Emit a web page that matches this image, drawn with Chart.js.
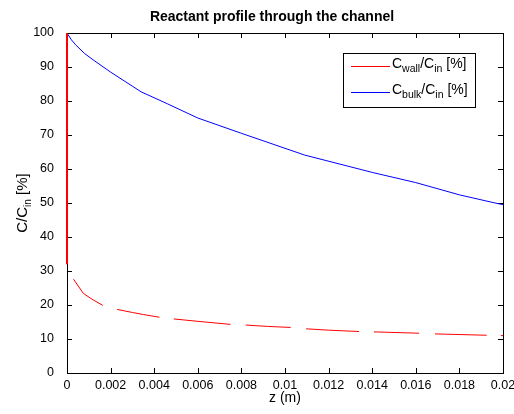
<!DOCTYPE html>
<html>
<head>
<meta charset="utf-8">
<script src="https://cdn.jsdelivr.net/npm/chart.js@4.4.0/dist/chart.umd.min.js"></script>
<style>
    html, body { margin: 0; padding: 0; background: #fff; }
    #wrap { width: 514px; height: 414px; }
</style>
</head>
<body>
<div id="wrap"><canvas id="profileChart" width="514" height="414"></canvas></div>
<script>
// Axial position along the channel (m) and concentration ratios (%)
const bulkZ   = [0, 0.0002, 0.0004, 0.0008, 0.0012, 0.002, 0.0034, 0.0046, 0.006, 0.008, 0.0109, 0.014, 0.016, 0.018, 0.0195, 0.02];
const bulkPct = [100, 98, 96.5, 94, 92.1, 88.5, 82.7, 79.2, 75, 70.5, 64.1, 59, 56, 52.4, 50.2, 49.5];

// Wall concentration is plotted in pieces; null entries break the line
const wallZ   = [0, 0, 0, 0.0003, 0.00075, 0.0012, 0.00164, 0.00164, 0.0023, 0.003, 0.0035, 0.00424, 0.00424,
                 0.0049, 0.006, 0.0075, 0.0075, 0.0082, 0.0092, 0.01026, 0.01026, 0.01097, 0.012, 0.0134, 0.0134,
                 0.01408, 0.01615, 0.01615, 0.01688, 0.01925, 0.01925, 0.0199, 0.02];
const wallPct = [100, 32, null, 27.6, 23.4, 21.5, 19.9, null, 18.7, 17.8, 17.2, 16.4, null,
                 15.9, 15.2, 14.3, null, 14.1, 13.7, 13.4, null, 13.0, 12.6, 12.2, null,
                 12.1, 11.7, null, 11.5, 11.1, null, 11.0, 11.0];

const xTicks = { min: 0, max: 0.02, step: 0.002 };
const yTicks = { min: 0, max: 100, step: 10 };

const FONT = '"Liberation Sans", Arial, sans-serif';

// text with subscripts, parts = [[text, isSub], ...]
function richWidth(ctx, parts, size, subSize) {
    let w = 0;
    parts.forEach(([t, sub]) => {
        ctx.font = (sub ? subSize : size) + 'px ' + FONT;
        w += ctx.measureText(t).width;
    });
    return w;
}
function drawRich(ctx, parts, x, y, size, subSize, drop) {
    ctx.textBaseline = 'alphabetic';
    ctx.textAlign = 'left';
    parts.forEach(([t, sub]) => {
        ctx.font = (sub ? subSize : size) + 'px ' + FONT;
        ctx.fillText(t, x, sub ? y + drop : y);
        x += ctx.measureText(t).width;
    });
}

const frame = {
    id: 'frame',
    beforeDatasetsDraw(chart) {
        const { ctx, chartArea: a, scales } = chart;
        ctx.save();
        ctx.strokeStyle = '#000';
        ctx.lineWidth = 1;
        ctx.strokeRect(a.left + 0.5, a.top + 0.5, a.right - a.left, a.bottom - a.top);
        ctx.beginPath();
        scales.x.ticks.forEach(t => {
            const px = Math.round(scales.x.getPixelForValue(t.value)) + 0.5;
            ctx.moveTo(px, a.bottom); ctx.lineTo(px, a.bottom - 5);
            ctx.moveTo(px, a.top); ctx.lineTo(px, a.top + 5);
        });
        scales.y.ticks.forEach(t => {
            const py = Math.round(scales.y.getPixelForValue(t.value)) + 0.5;
            ctx.moveTo(a.left, py); ctx.lineTo(a.left + 5, py);
            ctx.moveTo(a.right, py); ctx.lineTo(a.right - 5, py);
        });
        ctx.stroke();
        ctx.restore();
    },
    afterDraw(chart) {
        const { ctx, chartArea: a } = chart;
        ctx.save();
        ctx.fillStyle = '#000';

        // title
        ctx.font = 'bold 14px ' + FONT;
        ctx.textAlign = 'center';
        ctx.textBaseline = 'alphabetic';
        ctx.fillText('Reactant profile through the channel', 272, 21);

        // x axis title
        ctx.font = '14px ' + FONT;
        ctx.fillText('z (m)', (a.left + a.right) / 2, 402);

        // y axis title, rotated
        const yParts = [['C/C', false], ['in', true], [' [%]', false]];
        const yw = richWidth(ctx, yParts, 15, 10);
        ctx.translate(27, (a.top + a.bottom) / 2);
        ctx.rotate(-Math.PI / 2);
        drawRich(ctx, yParts, -yw / 2, 0, 15, 10, 4);
        ctx.setTransform(1, 0, 0, 1, 0, 0);

        // legend box
        ctx.fillStyle = '#fff';
        ctx.fillRect(343, 53, 132, 54);
        ctx.strokeStyle = '#000';
        ctx.lineWidth = 1;
        ctx.strokeRect(343.5, 53.5, 132, 54);
        const rows = [
            { color: '#ff0000', y: 66, parts: [['C', false], ['wall', true], ['/C', false], ['in', true], [' [%]', false]] },
            { color: '#0000ff', y: 92, parts: [['C', false], ['bulk', true], ['/C', false], ['in', true], [' [%]', false]] }
        ];
        rows.forEach(r => {
            ctx.strokeStyle = r.color;
            ctx.beginPath();
            ctx.moveTo(351, r.y + 0.5);
            ctx.lineTo(390, r.y + 0.5);
            ctx.stroke();
            ctx.fillStyle = '#000';
            drawRich(ctx, r.parts, 392, r.y + 1.5, 14, 10.5, 4);
        });
        ctx.restore();
    }
};

const ctx = document.getElementById('profileChart');
new Chart(ctx, {
    type: 'line',
    data: {
        datasets: [
            {
                label: 'Cwall/Cin [%]',
                data: wallZ.map((z, i) => ({ x: z, y: wallPct[i] })),
                borderColor: '#ff0000',
                borderWidth: 1,
                pointRadius: 0,
                tension: 0,
                spanGaps: false,
                clip: 4,
                segment: {
                    borderWidth: c => (c.p0.parsed.x === 0 && c.p1.parsed.x === 0 ? 2 : 1)
                }
            },
            {
                label: 'Cbulk/Cin [%]',
                data: bulkZ.map((z, i) => ({ x: z, y: bulkPct[i] })),
                borderColor: '#0000ff',
                borderWidth: 1,
                pointRadius: 0,
                tension: 0,
                clip: 4
            }
        ]
    },
    options: {
        responsive: false,
        animation: false,
        devicePixelRatio: 1,
        layout: { padding: { top: 33, right: 11, left: 0, bottom: 0 }, autoPadding: false },
        plugins: {
            legend: { display: false },
            title: { display: false },
            tooltip: { enabled: false }
        },
        scales: {
            x: {
                type: 'linear',
                min: xTicks.min,
                max: xTicks.max,
                grid: { display: false },
                border: { display: false },
                ticks: {
                    stepSize: xTicks.step,
                    autoSkip: false,
                    maxRotation: 0,
                    padding: -3,
                    color: '#000',
                    font: { family: FONT, size: 12.5 },
                    callback: v => String(+v.toFixed(3))
                },
                afterFit: s => { s.height = 41; }
            },
            y: {
                min: yTicks.min,
                max: yTicks.max,
                grid: { display: false },
                border: { display: false },
                ticks: {
                    stepSize: yTicks.step,
                    padding: 5,
                    color: '#000',
                    font: { family: FONT, size: 12.5 }
                },
                afterFit: s => { s.width = 67; }
            }
        }
    },
    plugins: [frame]
});
</script>
</body>
</html>
